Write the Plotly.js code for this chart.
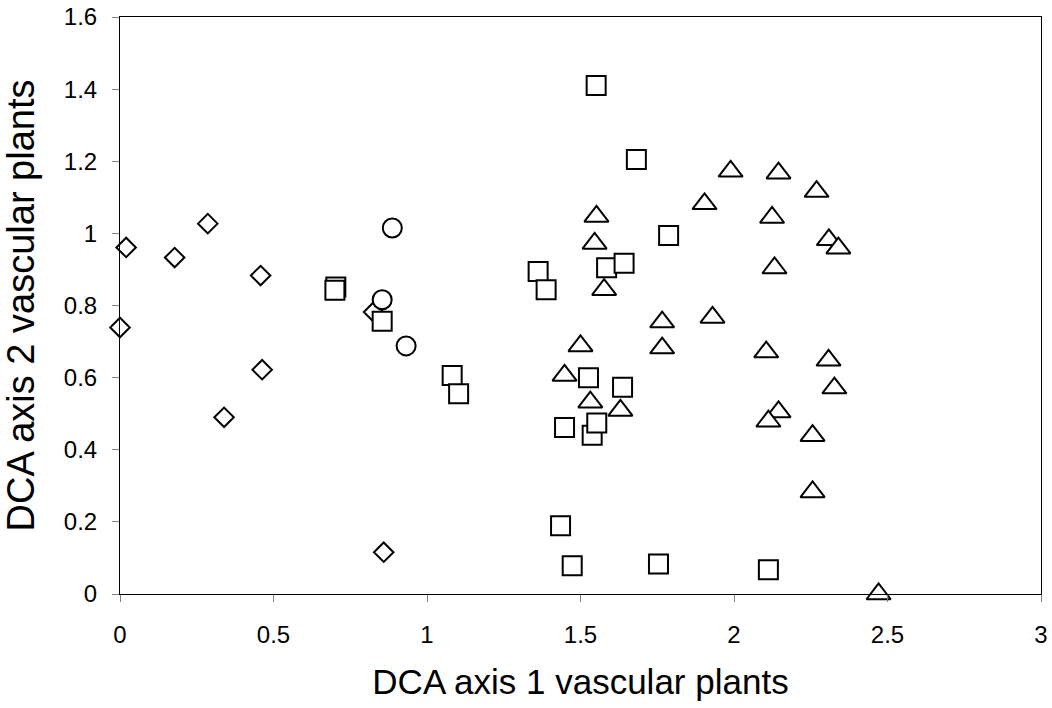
<!DOCTYPE html>
<html>
<head>
<meta charset="utf-8">
<script src="https://cdn.plot.ly/plotly-3.0.1.min.js"></script>
<style>html,body{margin:0;padding:0;background:#fff;}#chart{width:1052px;height:708px;}</style>
</head>
<body>
<div id="chart"></div>
<script>
// Group 1: diamonds
const diamondX = [0.02, 0.178, 0.286, 0.458, 0.0, 0.463, 0.339, 0.859, 0.826];
const diamondY = [0.961, 0.933, 1.027, 0.883, 0.739, 0.622, 0.490, 0.116, 0.782];
// Group 2: circles
const circleX = [0.887, 0.854, 0.932];
const circleY = [1.015, 0.816, 0.688];
// Group 3: triangles
const triangleX = [1.552, 1.546, 1.577, 1.989, 1.904, 2.145, 2.269, 2.124, 2.309, 2.340, 2.132,
                   2.105, 2.308, 2.327, 2.145, 2.112, 2.256, 2.256, 2.471,
                   1.766, 1.930, 1.766, 1.500, 1.448, 1.532, 1.630];
const triangleY = [1.047, 0.972, 0.844, 1.172, 1.082, 1.167, 1.116, 1.044, 0.982, 0.959, 0.904,
                   0.671, 0.648, 0.571, 0.505, 0.479, 0.439, 0.283, 0.000,
                   0.754, 0.767, 0.682, 0.688, 0.606, 0.532, 0.509];
// Group 4: squares
const squareX = [0.703, 0.700, 0.854, 1.082, 1.103, 1.551, 1.682, 1.787, 1.362, 1.388, 1.585, 1.642,
                 2.112, 1.526, 1.637, 1.448, 1.538, 1.553, 1.435, 1.473, 1.754];
const squareY = [0.851, 0.842, 0.756, 0.606, 0.555, 1.410, 1.205, 0.994, 0.894, 0.844, 0.905, 0.917,
                 0.067, 0.600, 0.573, 0.462, 0.440, 0.474, 0.189, 0.078, 0.083];

const xTicks = [0, 0.5, 1, 1.5, 2, 2.5, 3];
const xTickLabels = ['0', '0.5', '1', '1.5', '2', '2.5', '3'];
const yTicks = [0, 0.2, 0.4, 0.6, 0.8, 1, 1.2, 1.4, 1.6];
const yTickLabels = ['0', '0.2', '0.4', '0.6', '0.8', '1', '1.2', '1.4', '1.6'];

const FONT = 'Liberation Sans, Arial, sans-serif';
function mk(x, y, symbol, size) {
  return {x: x, y: y, type: 'scatter', mode: 'markers', hoverinfo: 'x+y', cliponaxis: false,
    marker: {symbol: symbol, size: size, color: '#ffffff', line: {color: '#000000', width: 2}}};
}
const data = [
  mk(diamondX, diamondY, 'diamond', 15),
  mk(triangleX, triangleY, 'triangle-up', 21),
  mk(circleX, circleY, 'circle', 19),
  mk(squareX, squareY, 'square', 19)
];
const layout = {
  width: 1052, height: 708,
  margin: {l: 120, r: 11, t: 17, b: 114},
  paper_bgcolor: '#ffffff', plot_bgcolor: '#ffffff',
  showlegend: false,
  font: {family: FONT, color: '#000000'},
  xaxis: {
    range: [0, 3], tickvals: xTicks, ticktext: xTickLabels,
    showgrid: false, zeroline: false, showline: true, linecolor: '#000000', linewidth: 1, mirror: true,
    ticks: 'outside', ticklen: 7, tickcolor: '#808080', tickwidth: 1,
    tickfont: {family: FONT, size: 24, color: '#000000'}, ticklabelstandoff: 12,
    title: {text: 'DCA axis 1 vascular plants', font: {family: FONT, size: 35, color: '#000000'}, standoff: 22}
  },
  yaxis: {
    range: [0, 1.6], tickvals: yTicks, ticktext: yTickLabels,
    showgrid: false, zeroline: false, showline: true, linecolor: '#000000', linewidth: 1, mirror: true,
    ticks: 'outside', ticklen: 7, tickcolor: '#808080', tickwidth: 1,
    tickfont: {family: FONT, size: 24, color: '#000000'}, ticklabelstandoff: 10,
    title: {text: 'DCA axis 2 vascular plants', font: {family: FONT, size: 38, color: '#000000'}, standoff: 20}
  }
};
Plotly.newPlot('chart', data, layout, {displayModeBar: false, staticPlot: true});
</script>
</body>
</html>
